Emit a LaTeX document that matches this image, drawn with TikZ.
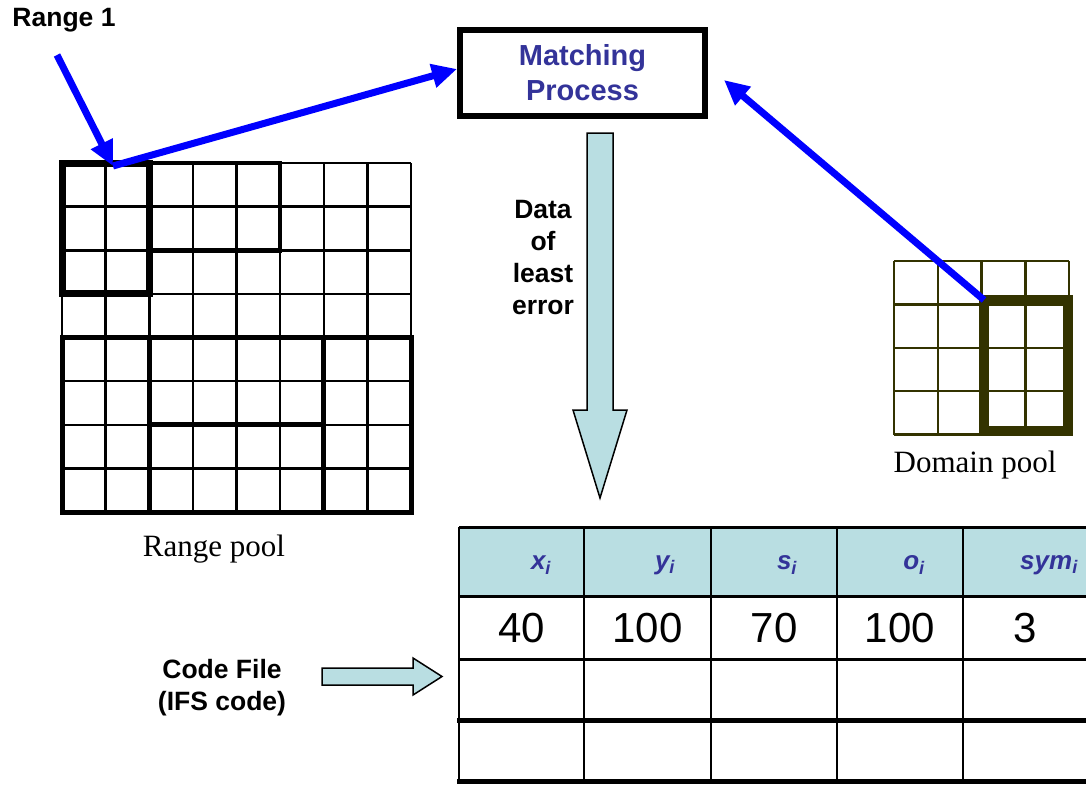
\documentclass[tikz,border=0pt]{standalone}
\usepackage{fontspec}
\setmainfont{Liberation Serif}
\setsansfont{Liberation Sans}
\usetikzlibrary{arrows.meta}
\definecolor{cyanfill}{RGB}{185,222,226}
\definecolor{navytext}{RGB}{51,51,153}
\definecolor{domcol}{RGB}{51,51,0}
\definecolor{bluearr}{RGB}{0,0,255}
\begin{document}
\begin{tikzpicture}[x=1pt,y=-1pt,
  txt/.style={inner sep=0pt, align=center},
  boldlbl/.style={txt, font=\sffamily\bfseries\fontsize{26.5}{32}\selectfont},
  seriflbl/.style={txt, font=\fontsize{31}{34}\selectfont},
  hdr/.style={txt, text=navytext, font=\sffamily\bfseries\itshape\fontsize{26}{30}\selectfont},
  val/.style={txt, font=\sffamily\fontsize{42}{46}\selectfont},
  bluearrow/.style={draw=bluearr, line width=7pt, -{Triangle[length=25pt,width=23pt]}},
  thin/.style={line width=2.5pt},
  fatarrow/.style={draw=black, line width=1.5pt, fill=cyanfill}
]
\useasboundingbox (0,0) rectangle (1086,785);

% ---------- Range pool grid ----------
\foreach \i in {0,...,8} {
  \draw[thin] ({62+43.625*\i},163) -- ({62+43.625*\i},512);
  \draw[thin] (62,{163+43.625*\i}) -- (411,{163+43.625*\i});
}
\draw[line width=7pt] (62,163) rectangle (149.25,293.9);
\draw[line width=4.5pt] (149.25,163) rectangle (280.1,250.25);
\draw[line width=5pt] (62,337.5) rectangle (411,512);
\draw[line width=5pt] (149.25,337.5) -- (149.25,512);
\draw[line width=5pt] (323.75,337.5) -- (323.75,512);
\draw[line width=5pt] (149.25,424.75) -- (323.75,424.75);
\node[seriflbl] (rangepool) at (214,549) {Range pool};

% ---------- Domain pool grid ----------
\foreach \i in {0,...,4} {
  \draw[thin, draw=domcol] ({894+43.75*\i},261) -- ({894+43.75*\i},434.6);
  \draw[thin, draw=domcol] (894,{261+43.4*\i}) -- (1069,{261+43.4*\i});
}
\draw[line width=10pt, draw=domcol] (984,300) rectangle (1067.5,431);
\coordinate (domcorner) at (984,300);
\node[seriflbl] (domainpool) at (975,465) {Domain pool};

% ---------- Matching process ----------
\node[draw, line width=6pt, minimum width=245pt, minimum height=86pt,
      txt, text=navytext, font=\sffamily\bfseries\fontsize{29}{35}\selectfont]
      (match) at (582.5,73) {Matching\\Process};

% ---------- Range 1 label and blue arrows ----------
\node[boldlbl] (range1) at (64,20) {Range 1};
\coordinate (r1start) at (57,55);
\coordinate (r1corner) at (113,166);
\coordinate (mtip) at (724,80);
\draw[bluearrow] (r1start) -- (r1corner);
\draw[bluearrow] (r1corner) -- ([yshift=4pt]match.west);
\draw[bluearrow] (domcorner) -- (mtip);

% ---------- Down arrow ----------
\draw[fatarrow] (587,133) -- (613,133) -- (613,410) -- (627,410) -- (600,498)
  -- (573,410) -- (587,410) -- cycle;
\node[boldlbl] (dataerr) at (543,258) {Data\\of\\least\\error};

% ---------- Table ----------
\fill[cyanfill] (459,527) rectangle (1086,596);
\foreach \y in {527,596,659} \draw[line width=3pt] (459,\y) -- (1086,\y);
\foreach \y in {720,781} \draw[line width=5pt] (457,\y) -- (1086,\y);
\foreach \x in {459,584,711,837,963} \draw[thin] (\x,527) -- (\x,781);

\node[hdr] (hx) at (541,565) {x\textsubscript{i}};
\node[hdr] (hy) at (665,565) {y\textsubscript{i}};
\node[hdr] (hs) at (787,565) {s\textsubscript{i}};
\node[hdr] (ho) at (914,565) {o\textsubscript{i}};
\node[hdr] (hsym) at (1049,565) {sym\textsubscript{i}};

\node[val] (vx) at (521.5,628) {40};
\node[val] (vy) at (647.5,628) {100};
\node[val] (vs) at (774,628) {70};
\node[val] (vo) at (900,628) {100};
\node[val] (vsym) at (1025,628) {3};

% ---------- Code file ----------
\node[boldlbl] (codefile) at (222,688) {Code File\\(IFS code)};
\draw[fatarrow] (322,668) -- (413,668) -- (413,658) -- (442,676.5) -- (413,695)
  -- (413,685) -- (322,685) -- cycle;
\end{tikzpicture}
\end{document}
